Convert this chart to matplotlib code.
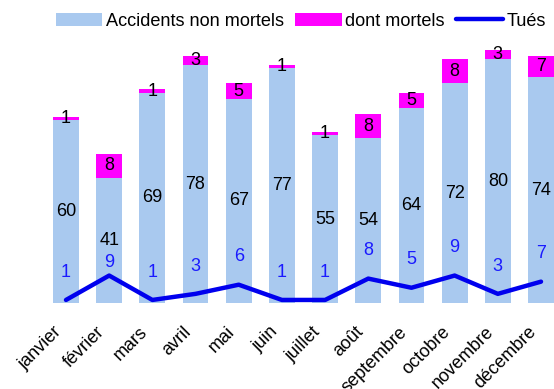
import matplotlib
matplotlib.use("Agg")
import matplotlib.pyplot as plt
import matplotlib.transforms as mtransforms
import numpy as np

months = ["janvier", "février", "mars", "avril", "mai", "juin", "juillet",
          "août", "septembre", "octobre", "novembre", "décembre"]
non_mortels = [60, 41, 69, 78, 67, 77, 55, 54, 64, 72, 80, 74]
mortels = [1, 8, 1, 3, 5, 1, 1, 8, 5, 8, 3, 7]
tues = [1, 9, 1, 3, 6, 1, 1, 8, 5, 9, 3, 7]

plt.rcParams['font.family'] = ['Liberation Sans', 'DejaVu Sans']

W, H = 554, 389
fig = plt.figure(figsize=(W / 100, H / 100), dpi=100)
ax = fig.add_axes([44.4 / W, (H - 303) / H, 518.2 / W, 274.5 / H])

x = np.arange(len(months))
c_blue = '#a9c9ef'
c_mag = '#ff00ff'
c_line = '#0000ee'

b1 = ax.bar(x, non_mortels, width=0.6, color=c_blue, label='Accidents non mortels')
b2 = ax.bar(x, mortels, width=0.6, bottom=non_mortels, color=c_mag, label='dont mortels')
ln, = ax.plot(x, tues, color=c_line, lw=3.2, solid_capstyle='round', label='Tués')

for i in range(len(x)):
    ax.text(x[i], non_mortels[i] / 2, str(non_mortels[i]), ha='center', va='center',
            fontsize=13, color='black')
    ax.text(x[i], non_mortels[i] + mortels[i] / 2, str(mortels[i]), ha='center',
            va='center', fontsize=13, color='black')
    off = 9.5 if i == 1 else 20
    ax.annotate(str(tues[i]), (x[i], tues[i]), xytext=(0, off), textcoords='offset points',
                ha='center', va='center', fontsize=13, color='#1a1aff')

ax.set_xlim(-0.5, 11.5)
ax.set_ylim(0, 90)
for s in ax.spines.values():
    s.set_visible(False)
ax.set_yticks([])
ax.set_xticks(x)
ax.set_xticklabels(months, rotation=45, ha='right', va='center', rotation_mode='anchor',
                   fontsize=13)
ax.tick_params(axis='x', length=0, pad=19)
shift = mtransforms.ScaledTranslation(-7 / 100, 0, fig.dpi_scale_trans)
for lab in ax.get_xticklabels():
    lab.set_transform(lab.get_transform() + shift)

fig.legend(handles=[b1, b2, ln], loc='center left', bbox_to_anchor=(56 / W, 1 - 21 / H),
           ncol=3, frameon=False, fontsize=13.1, borderpad=0, borderaxespad=0,
           handlelength=2.55, handleheight=0.72, handletextpad=0.2, columnspacing=0.62)

fig.savefig('out.png', dpi=100)
